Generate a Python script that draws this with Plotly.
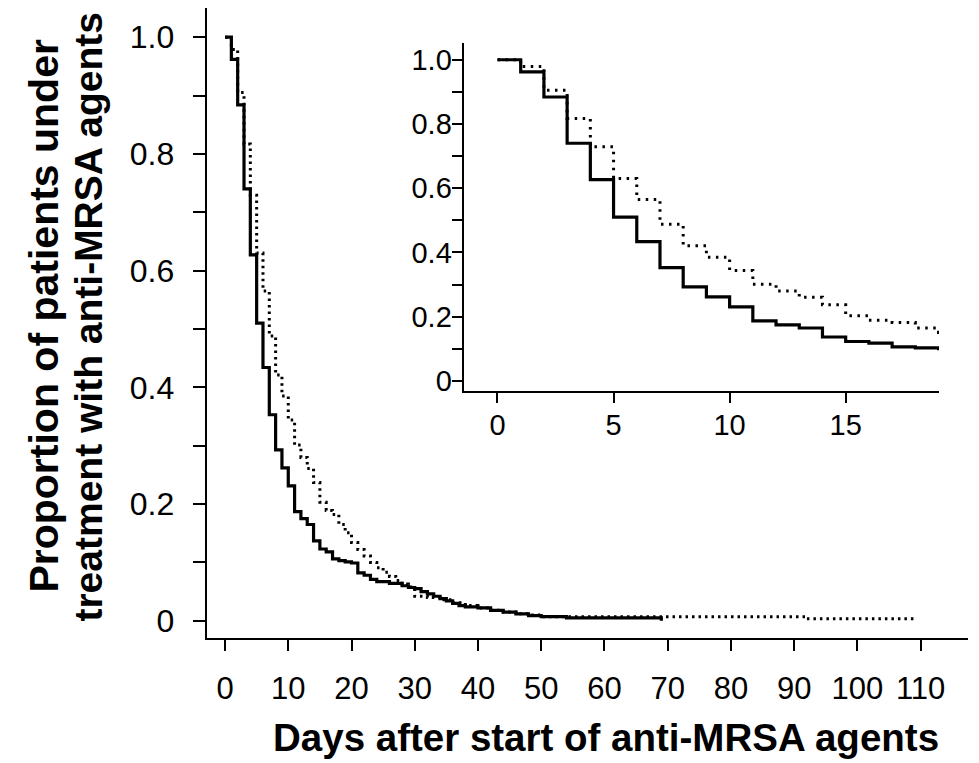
import plotly.graph_objects as go

# ---------------- data ----------------
solid_days = [0, 1, 2, 3, 4, 5, 6, 7, 8, 9, 10, 11, 12, 13, 14, 15, 16, 17, 18, 19,
              20, 21, 22, 23, 24, 26, 28, 29, 30, 31, 32, 33, 34, 35, 36, 37, 38,
              40, 42, 44, 46, 48, 50, 54, 69]
solid_surv = [1.000, 0.962, 0.884, 0.740, 0.627, 0.510, 0.434, 0.353, 0.293, 0.262,
              0.231, 0.187, 0.175, 0.165, 0.137, 0.123, 0.118, 0.106, 0.103, 0.101,
              0.099, 0.082, 0.078, 0.071, 0.067, 0.064, 0.060, 0.057, 0.055, 0.050,
              0.046, 0.042, 0.038, 0.034, 0.030, 0.026, 0.024, 0.022, 0.018, 0.015,
              0.012, 0.009, 0.007, 0.005, 0.000]

dotted_days = [0, 1, 2, 3, 4, 5, 6, 7, 8, 9, 10, 11, 12, 13, 14, 15, 16, 17, 18, 19,
               20, 21, 22, 23, 24, 25, 26, 27, 28, 29, 30, 32, 34, 36, 38, 40, 42,
               44, 46, 48, 50, 92, 109.5]
dotted_surv = [1.000, 0.979, 0.905, 0.817, 0.729, 0.630, 0.565, 0.488, 0.421, 0.385,
               0.344, 0.301, 0.280, 0.261, 0.237, 0.203, 0.189, 0.182, 0.165, 0.151,
               0.134, 0.122, 0.111, 0.100, 0.091, 0.083, 0.076, 0.069, 0.063, 0.058,
               0.042, 0.040, 0.036, 0.031, 0.026, 0.022, 0.018, 0.015, 0.012, 0.010,
               0.007, 0.0034, 0.0034]

main_x_ticks = [0, 10, 20, 30, 40, 50, 60, 70, 80, 90, 100, 110]
y_tick_vals = [0, 0.1, 0.2, 0.3, 0.4, 0.5, 0.6, 0.7, 0.8, 0.9, 1.0]
y_tick_text = ["0", "", "0.2", "", "0.4", "", "0.6", "", "0.8", "", "1.0"]
inset_x_ticks = [0, 5, 10, 15]

x_title = "Days after start of anti-MRSA agents"
y_title_lines = ["Proportion of patients under", "treatment with anti-MRSA agents"]

# ---------------- layout geometry ----------------
W, H = 979, 763
OFF = 8  # page body margin offset
def fx(p):
    return (p - OFF) / W
def fy(p):
    return 1 - (p - OFF) / H

FONT = "Liberation Sans, Arial, Helvetica, sans-serif"

fig = go.Figure()

for xa, ya, dash in [("x", "y", "2.5px,4px"), ("x2", "y2", "2.5px,5.5px")]:
    fig.add_trace(go.Scatter(x=dotted_days, y=dotted_surv, mode="lines",
                             line=dict(color="black", width=3, dash=dash, shape="hv"),
                             xaxis=xa, yaxis=ya, showlegend=False, hoverinfo="skip"))
    fig.add_trace(go.Scatter(x=solid_days, y=solid_surv, mode="lines",
                             line=dict(color="black", width=3.2, shape="hv"),
                             xaxis=xa, yaxis=ya, showlegend=False, hoverinfo="skip"))

axis_common = dict(showgrid=False, zeroline=False, showline=True, linecolor="black",
                   linewidth=2, ticks="outside", tickcolor="black", tickwidth=1.6,
                   mirror=False)

fig.update_layout(
    width=W, height=H,
    margin=dict(l=0, r=0, t=0, b=0),
    paper_bgcolor="white", plot_bgcolor="white",
    font=dict(family=FONT, color="black"),
    xaxis=dict(axis_common, domain=[fx(206.7), fx(968)], range=[-2.9, 117.5],
               tickmode="array", tickvals=main_x_ticks, ticklen=11,
               tickfont=dict(size=31, family=FONT, color="black"),
               ticklabelstandoff=11, anchor="y"),
    yaxis=dict(axis_common, domain=[fy(642.7), fy(8)], range=[-0.029, 1.050],
               tickmode="array", tickvals=y_tick_vals, ticktext=y_tick_text, ticklen=12,
               tickfont=dict(size=32, family=FONT, color="black"),
               ticklabelstandoff=12, anchor="x"),
    xaxis2=dict(axis_common, domain=[fx(463.6), fx(939)], range=[-1.46, 19.02],
                tickmode="array", tickvals=inset_x_ticks, ticklen=10,
                tickfont=dict(size=29, family=FONT, color="black"),
                ticklabelstandoff=-3, anchor="y2"),
    yaxis2=dict(axis_common, domain=[fy(394), fy(43.3)], range=[-0.031, 1.052],
                tickmode="array", tickvals=y_tick_vals, ticktext=y_tick_text, ticklen=10,
                tickfont=dict(size=29, family=FONT, color="black"),
                ticklabelstandoff=-6, anchor="x2"),
)

fig.add_annotation(text=x_title, xref="paper", yref="paper", x=fx(605.5), y=fy(743),
                   xanchor="center", yanchor="middle", showarrow=False,
                   font=dict(size=38.5, family=FONT, color="black", weight="bold"))
fig.add_annotation(text=y_title_lines[0], xref="paper", yref="paper", x=fx(44), y=fy(318),
                   xanchor="center", yanchor="middle", showarrow=False, textangle=-90,
                   font=dict(size=41, family=FONT, color="black", weight="bold"))
fig.add_annotation(text=y_title_lines[1], xref="paper", yref="paper", x=fx(89), y=fy(319),
                   xanchor="center", yanchor="middle", showarrow=False, textangle=-90,
                   font=dict(size=39, family=FONT, color="black", weight="bold"))

fig.write_html("out.html")
